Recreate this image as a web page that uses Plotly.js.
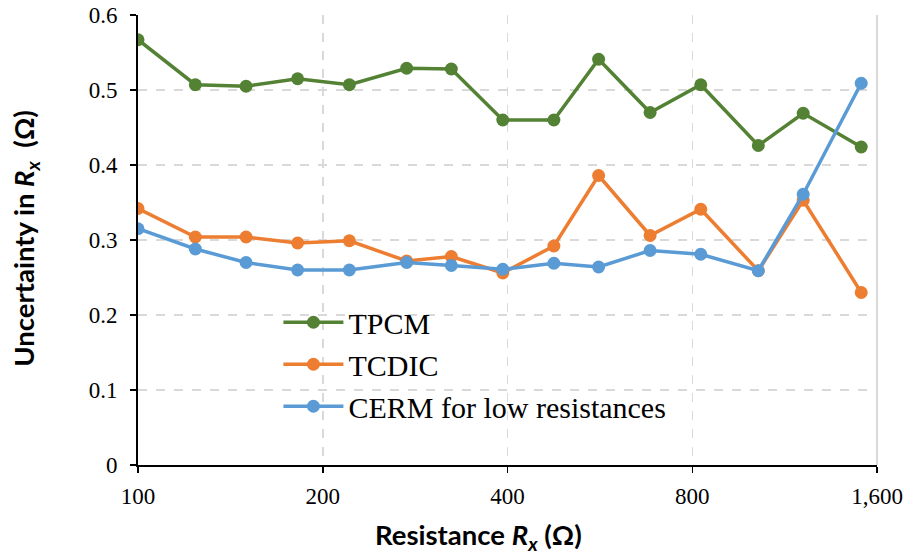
<!DOCTYPE html>
<html>
<head>
<meta charset="utf-8">
<script src="https://cdn.plot.ly/plotly-3.0.1.min.js"></script>
<style>html,body{margin:0;padding:0;background:#fff;}#chart{width:907px;height:560px;}</style>
</head>
<body>
<div id="chart"></div>
<script>
const resistance = [100, 124, 150, 182, 221, 274, 324, 393, 476, 563, 683, 826, 1025, 1213, 1508];
const tpcm  = [0.567, 0.507, 0.505, 0.515, 0.507, 0.529, 0.528, 0.460, 0.460, 0.541, 0.470, 0.507, 0.426, 0.469, 0.424];
const tcdic = [0.342, 0.304, 0.304, 0.296, 0.299, 0.272, 0.278, 0.256, 0.292, 0.386, 0.306, 0.341, 0.259, 0.353, 0.230];
const cerm  = [0.315, 0.288, 0.270, 0.260, 0.260, 0.270, 0.266, 0.261, 0.269, 0.264, 0.286, 0.281, 0.259, 0.361, 0.509];
const seriesNames = ["TPCM", "TCDIC", "CERM for low resistances"];
const xTickVals = [100, 200, 400, 800, 1600];
const xTickText = ["100", "200", "400", "800", "1,600"];
const yTickVals = [0, 0.1, 0.2, 0.3, 0.4, 0.5, 0.6];
const yTickText = ["0", "0.1", "0.2", "0.3", "0.4", "0.5", "0.6"];
const xTitle = "Resistance <i>R<sub>x</sub></i> (Ω)";
const yTitle = "Uncertainty in <i>R<sub>x</sub></i>  (Ω)";

const colors = ["#548235", "#ED7D31", "#5B9BD5"];
const ys = [tpcm, tcdic, cerm];
const traces = ys.map((y, i) => ({
  x: resistance, y: y, name: seriesNames[i], type: "scatter", mode: "lines+markers",
  line: {color: colors[i], width: 3.5},
  marker: {color: colors[i], size: 13}
}));

const tickFont = {family: "Liberation Serif, Times New Roman, serif", size: 23, color: "#000"};
const titleFont = {family: "Lato, Open Sans, sans-serif", size: 27.5, color: "#000", weight: "bold"};
const layout = {
  width: 907, height: 560,
  margin: {l: 138, r: 30, t: 15, b: 95},
  paper_bgcolor: "#fff", plot_bgcolor: "#fff",
  showlegend: true,
  legend: {x: 0.19, y: 0.375, xanchor: "left", yanchor: "top",
    font: {family: "Liberation Serif, Times New Roman, serif", size: 30, color: "#000"},
    bgcolor: "rgba(255,255,255,0)", itemwidth: 60, tracegroupgap: 0},
  xaxis: {
    type: "log", range: [Math.log10(100), Math.log10(1600)],
    tickvals: xTickVals, ticktext: xTickText, tickfont: tickFont,
    showline: true, linecolor: "#000", linewidth: 2,
    ticks: "outside", ticklen: 6, tickwidth: 1.5, tickcolor: "#000",
    ticklabelstandoff: 3,
    showgrid: true, gridcolor: "#d9d9d9", griddash: "dash", gridwidth: 1.5,
    zeroline: false
  },
  yaxis: {
    range: [0, 0.6], tickvals: yTickVals, ticktext: yTickText, tickfont: tickFont,
    showline: true, linecolor: "#000", linewidth: 2,
    ticks: "outside", ticklen: 6, tickwidth: 1.5, tickcolor: "#000",
    ticklabelstandoff: 8,
    showgrid: true, gridcolor: "#d9d9d9", griddash: "dash", gridwidth: 1.5,
    zeroline: false
  },
  annotations: [
    {text: xTitle, xref: "paper", yref: "paper", x: 0.461, y: -0.158,
     xanchor: "center", yanchor: "middle", showarrow: false, font: titleFont},
    {text: yTitle, xref: "paper", yref: "paper", x: -0.1516, y: 0.505,
     xanchor: "center", yanchor: "middle", showarrow: false, textangle: -90, font: titleFont}
  ],
  shapes: [{type: "line", xref: "paper", yref: "paper", x0: 1, x1: 1, y0: 0, y1: 1,
    line: {color: "#d9d9d9", width: 2}}]
};
Plotly.newPlot("chart", traces, layout, {staticPlot: true});
</script>
</body>
</html>
